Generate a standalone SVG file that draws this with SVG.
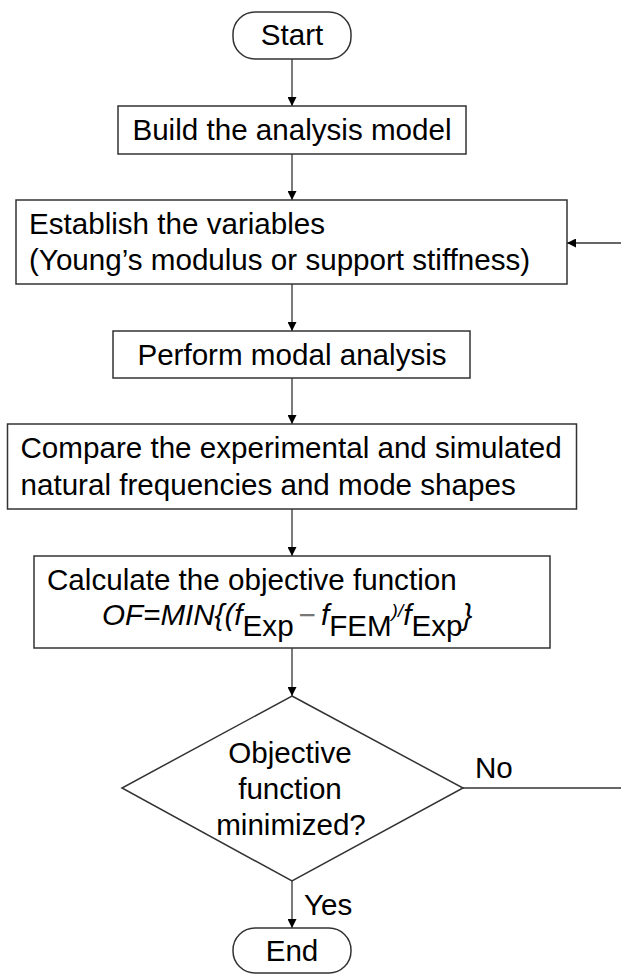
<svg xmlns="http://www.w3.org/2000/svg" width="621" height="974" viewBox="0 0 621 974">
<defs>
<style>
.box{fill:#fff;stroke:#333;stroke-width:1.5}
.t{font-family:"Liberation Sans",Arial,sans-serif;font-size:29.6px;fill:#000}
.c{text-anchor:middle}
.ln{fill:none;stroke:#333;stroke-width:1.3}
.i{font-style:italic}
</style>
<marker id="ah" viewBox="0 0 10 10" refX="10" refY="5" markerWidth="9" markerHeight="9" markerUnits="userSpaceOnUse" orient="auto">
<path d="M0,0 L10,5 L0,10 Z" fill="#000"/>
</marker>
</defs>
<rect width="621" height="974" fill="#fff"/>
<g id="connectors">
<line class="ln" x1="292" y1="59" x2="292" y2="106" marker-end="url(#ah)"/>
<line class="ln" x1="292" y1="154" x2="292" y2="200" marker-end="url(#ah)"/>
<line class="ln" x1="292" y1="284" x2="292" y2="331" marker-end="url(#ah)"/>
<line class="ln" x1="292" y1="378" x2="292" y2="424" marker-end="url(#ah)"/>
<line class="ln" x1="292" y1="509" x2="292" y2="556" marker-end="url(#ah)"/>
<line class="ln" x1="292" y1="648" x2="292" y2="696" marker-end="url(#ah)"/>
<line class="ln" x1="292" y1="881" x2="292" y2="928" marker-end="url(#ah)"/>
<line class="ln" x1="463" y1="788" x2="621" y2="788"/>
<line class="ln" x1="621" y1="243" x2="567" y2="243" marker-end="url(#ah)"/>
<text class="t" x="475" y="778">No</text>
<text class="t" x="304" y="915">Yes</text>
</g>
<g id="start">
<rect class="box" x="233" y="12" width="118" height="47" rx="22" ry="22"/>
<text class="t c" x="292" y="45">Start</text>
</g>
<g id="build">
<rect class="box" x="118" y="106" width="348" height="48"/>
<text class="t c" x="292" y="140">Build the analysis model</text>
</g>
<g id="establish">
<rect class="box" x="16" y="200" width="551" height="84"/>
<text class="t" x="29" y="234">Establish the variables</text>
<text class="t" x="29" y="270">(Young’s modulus or support stiffness)</text>
</g>
<g id="perform">
<rect class="box" x="113" y="331" width="357" height="47"/>
<text class="t c" x="292" y="365">Perform modal analysis</text>
</g>
<g id="compare">
<rect class="box" x="7.5" y="424" width="569" height="85"/>
<text class="t" x="20.5" y="458">Compare the experimental and simulated</text>
<text class="t" x="20.5" y="495">natural frequencies and mode shapes</text>
</g>
<g id="calculate">
<rect class="box" x="34" y="556" width="516" height="92"/>
<text class="t" x="47" y="590">Calculate the objective function</text>
<text class="t" x="102" y="625"><tspan class="i">OF=MIN{(f</tspan><tspan dy="11">Exp</tspan><tspan dy="-11" fill="#777" dx="5">−</tspan><tspan class="i" dx="5">f</tspan><tspan dy="11">FEM</tspan><tspan class="i" dy="-19" font-size="19">)/</tspan><tspan class="i" dy="8">f</tspan><tspan dy="11">Exp</tspan><tspan class="i" dy="-11">}</tspan></text>
</g>
<g id="decision">
<polygon class="box" points="292,696 463,788 292,881 122,788"/>
<text class="t c" x="290" y="763">Objective</text>
<text class="t c" x="290" y="799">function</text>
<text class="t c" x="291" y="835">minimized?</text>
</g>
<g id="end">
<rect class="box" x="233" y="928" width="118" height="45" rx="22" ry="22"/>
<text class="t c" x="292" y="961">End</text>
</g>
</svg>
